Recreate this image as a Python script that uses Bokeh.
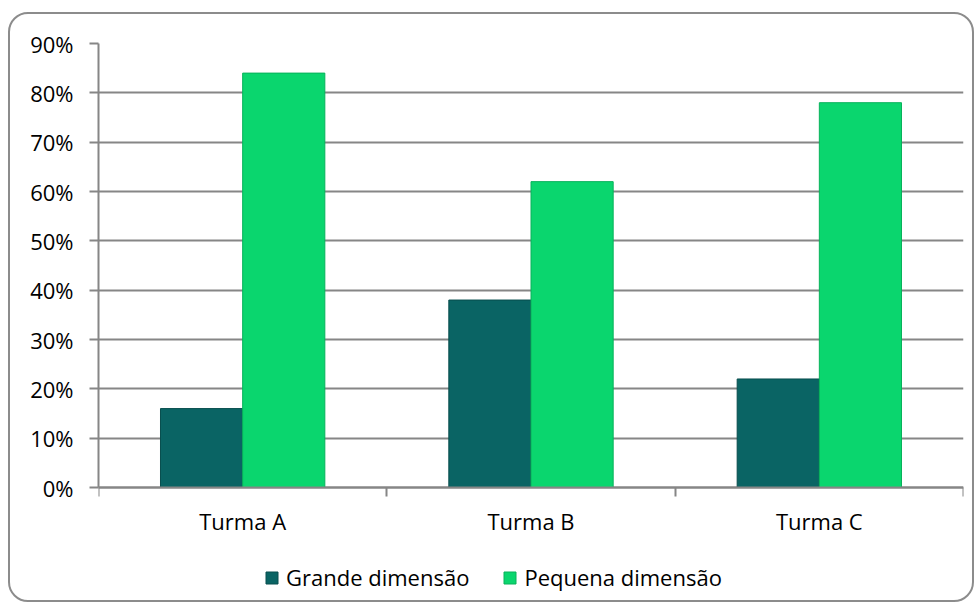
from bokeh.plotting import figure
from bokeh.models import (ColumnDataSource, Range1d, FixedTicker, NumeralTickFormatter,
                          Legend, LegendItem)
from bokeh.transform import dodge
from bokeh.embed import file_html
from bokeh.resources import INLINE

# ---- data ----
categories = ["Turma A", "Turma B", "Turma C"]
grande = [0.16, 0.38, 0.22]
pequena = [0.84, 0.62, 0.78]
y_ticks = [0.0, 0.1, 0.2, 0.3, 0.4, 0.5, 0.6, 0.7, 0.8, 0.9]
series_names = ["Grande dimensão", "Pequena dimensão"]

FONT = "Open Sans"
W, H = 966, 590

xpos = [i + 0.5 for i in range(len(categories))]
src = ColumnDataSource(dict(x=xpos, cat=categories, grande=grande, pequena=pequena))

p = figure(width=W, height=H, output_backend="svg", toolbar_location=None,
           x_range=Range1d(0, len(categories)), y_range=Range1d(-0.227, 0.9),
           min_border_left=88, min_border_right=13, min_border_top=29, min_border_bottom=5)
p.outline_line_color = None
p.background_fill_color = None
p.border_fill_color = None
p.styles = {"margin-left": "8px", "margin-top": "12px",
            "border": "2px solid #8c8c8c", "border-radius": "20px"}

bw = 0.285
r1 = p.vbar(x=dodge("x", -0.1425, range=p.x_range), top="grande", width=bw, source=src,
            fill_color="#0a6464", line_color="#084e4e", line_width=1)
r2 = p.vbar(x=dodge("x", 0.1425, range=p.x_range), top="pequena", width=bw, source=src,
            fill_color="#0ad66e", line_color="#08b25b", line_width=1)

# x axis: labels at centres, tick marks at category boundaries, drawn at y = 0
xa = p.xaxis[0]
xa.fixed_location = 0
xa.ticker = FixedTicker(ticks=xpos, minor_ticks=[0, 1, 2, 3])
xa.major_label_overrides = {v: c for v, c in zip(xpos, categories)}
xa.major_tick_line_color = None
xa.major_tick_out = 0
xa.minor_tick_out = 9
xa.minor_tick_in = 0
xa.minor_tick_line_color = "#868686"
xa.minor_tick_line_width = 2
xa.axis_line_color = "#868686"
xa.axis_line_width = 2
xa.major_label_standoff = 9
xa.major_label_text_font = FONT
xa.major_label_text_font_size = "22px"
xa.major_label_text_color = "#000000"

ya = p.yaxis[0]
ya.bounds = (0, 0.9)
ya.ticker = FixedTicker(ticks=y_ticks)
ya.formatter = NumeralTickFormatter(format="0%")
ya.major_tick_out = 9
ya.major_tick_in = 0
ya.major_tick_line_color = "#868686"
ya.major_tick_line_width = 2
ya.minor_tick_line_color = None
ya.axis_line_color = "#868686"
ya.axis_line_width = 2
ya.major_label_standoff = 16
ya.major_label_text_font = FONT
ya.major_label_text_font_size = "22px"
ya.major_label_text_color = "#000000"

p.xgrid.grid_line_color = None
p.ygrid.grid_line_color = "#868686"
p.ygrid.grid_line_width = 2

legend = Legend(items=[LegendItem(label=series_names[0], renderers=[r1]),
                       LegendItem(label=series_names[1], renderers=[r2])],
                orientation="horizontal", location=(166, 7),
                glyph_width=15, glyph_height=15, label_standoff=7, spacing=33,
                padding=0, margin=0, border_line_color=None, background_fill_alpha=0,
                label_text_font=FONT, label_text_font_size="22px", label_text_color="#000000")
p.add_layout(legend, "center")

open("out.html", "w").write(file_html(p, INLINE))
